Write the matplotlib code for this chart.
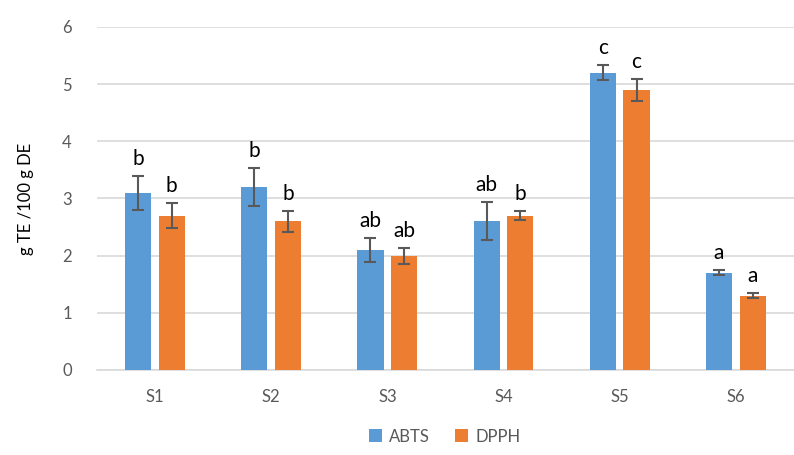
import numpy as np
import matplotlib.pyplot as plt

plt.rcParams['font.family'] = ['Lato', 'DejaVu Sans']

samples = ['S1', 'S2', 'S3', 'S4', 'S5', 'S6']
abts = [3.1, 3.2, 2.1, 2.6, 5.2, 1.7]
abts_err = [0.30, 0.33, 0.21, 0.33, 0.13, 0.04]
dpph = [2.7, 2.6, 2.0, 2.7, 4.9, 1.3]
dpph_err = [0.22, 0.18, 0.14, 0.08, 0.19, 0.04]
abts_letters = ['b', 'b', 'ab', 'ab', 'c', 'a']
dpph_letters = ['b', 'b', 'ab', 'b', 'c', 'a']

blue = '#5B9BD5'
orange = '#ED7D31'
grey = '#595959'

fig = plt.figure(figsize=(7.94, 4.55), dpi=100)
ax = fig.add_axes([0.122, 0.187, 0.878, 0.754])

x = np.arange(len(samples))
w = 0.225
off = 0.145

eb = dict(ecolor=grey, elinewidth=1.5, capsize=4, capthick=1.5)
b1 = ax.bar(x - off, abts, w, color=blue, yerr=abts_err, error_kw=eb,
            label='ABTS', zorder=3)
b2 = ax.bar(x + off, dpph, w, color=orange, yerr=dpph_err, error_kw=eb,
            label='DPPH', zorder=3)

for xi, v, e, t in zip(x - off, abts, abts_err, abts_letters):
    ax.annotate(t, (xi, v + e), xytext=(0, 5), textcoords='offset points',
                ha='center', va='bottom', fontsize=15)
for xi, v, e, t in zip(x + off, dpph, dpph_err, dpph_letters):
    ax.annotate(t, (xi, v + e), xytext=(0, 5), textcoords='offset points',
                ha='center', va='bottom', fontsize=15)

ax.set_xlim(-0.5, 5.5)
ax.set_ylim(0, 6)
ax.set_yticks(range(0, 7))
ax.set_xticks(x)
ax.set_xticklabels(samples)
ax.tick_params(axis='both', length=0, labelsize=12, labelcolor=grey)
ax.tick_params(axis='y', pad=18)
ax.tick_params(axis='x', pad=14)
ax.yaxis.grid(True, color='#D9D9D9', linewidth=1.2, zorder=0)
ax.set_axisbelow(True)
for s in ['top', 'right', 'left']:
    ax.spines[s].set_visible(False)
ax.spines['bottom'].set_color('#D9D9D9')
ax.spines['bottom'].set_linewidth(1.2)

ax.set_ylabel('g TE /100 g DE', fontsize=12, color='black', labelpad=20)

fig.legend(handles=[b1, b2], loc='lower center', ncol=2, frameon=False,
           bbox_to_anchor=(0.56, -0.01), fontsize=12, handlelength=0.8,
           handleheight=0.8, columnspacing=1.5, handletextpad=0.4,
           labelcolor=grey)

fig.savefig('out.png', dpi=100)
